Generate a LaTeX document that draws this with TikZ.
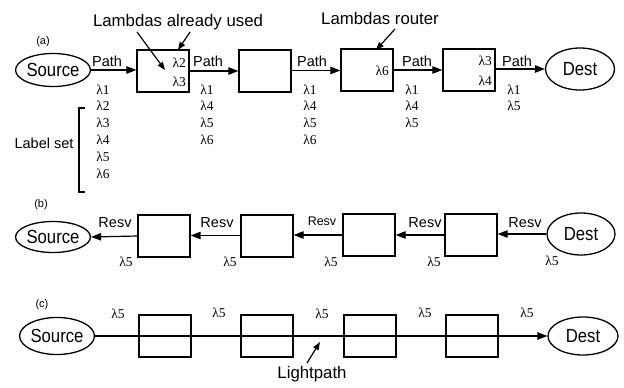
\documentclass[tikz,border=0pt]{standalone}
\usepackage{fontspec}
\setmainfont{Liberation Sans}
\newfontfamily\lamfont{Liberation Serif}
\newfontfamily\narrowfont[FakeStretch=0.88]{Liberation Sans}
\usetikzlibrary{shapes.geometric,arrows.meta}
\tikzset{
  box/.style={draw,line width=1.4pt,minimum width=52pt,minimum height=42pt,inner sep=0pt},
  ell/.style={draw,ellipse,line width=1.3pt,inner sep=0pt,font=\narrowfont\fontsize{19}{19}\selectfont},
  conn/.style={line width=1.2pt,-{Triangle[length=10pt,width=7.5pt]}},
  note/.style={line width=1.2pt,-{Triangle[length=8pt,width=6pt]}},
  lbl/.style={font=\fontsize{14.5}{14.5}\selectfont,anchor=base,inner sep=0pt},
  big/.style={font=\fontsize{16.8}{16.8}\selectfont,anchor=base,inner sep=0pt},
  lam/.style={font=\lamfont\fontsize{13.5}{13.5}\selectfont,anchor=base,inner sep=0pt},
  tag/.style={font=\fontsize{11}{11}\selectfont,inner sep=0pt}
}
\begin{document}
\begin{tikzpicture}[x=1pt,y=-1pt]
\useasboundingbox (0,0) rectangle (624,388);
% ---------- (a) ----------
\node[tag] (ta) at (43,42) {(a)};
\node[ell,minimum width=69pt,minimum height=33pt] (sa) at (53,70) {Source};
\node[box] (a1) at (163,71) {};
\node[box] (a2) at (265,71) {};
\node[box] (a3) at (367,70) {};
\node[box] (a4) at (469,70) {};
\node[ell,minimum width=69pt,minimum height=42pt] (da) at (580,69) {Dest};
\draw[conn] (sa) -- (sa -| a1.west);
\draw[conn] (a1.east |- 0,71) -- (a2.west |- 0,71);
\draw[conn] (a2.east |- 0,70.5) -- (a3.west |- 0,70.5);
\draw[conn] (a3.east |- 0,70) -- (a4.west |- 0,70);
\draw[conn] (a4.east |- 0,69) -- (da.west);
\foreach \x/\n in {107/p1,208/p2,312/p3,417/p4,517/p5}{\node[lbl] (\n) at (\x,66) {Path};}
% label columns
\node[lam] (c1a) at (103,94) {λ1};
\node[lam] (c1b) at (103,110.8) {λ2};
\node[lam] (c1c) at (103,127.6) {λ3};
\node[lam] (c1d) at (103,144.4) {λ4};
\node[lam] (c1e) at (103,161.2) {λ5};
\node[lam] (c1f) at (103,178) {λ6};
\node[lam] (c2a) at (207,94) {λ1};
\node[lam] (c2b) at (207,110.8) {λ4};
\node[lam] (c2c) at (207,127.6) {λ5};
\node[lam] (c2d) at (207,144.4) {λ6};
\node[lam] (c3a) at (310,94) {λ1};
\node[lam] (c3b) at (310,110.8) {λ4};
\node[lam] (c3c) at (310,127.6) {λ5};
\node[lam] (c3d) at (310,144.4) {λ6};
\node[lam] (c4a) at (412,94) {λ1};
\node[lam] (c4b) at (412,110.8) {λ4};
\node[lam] (c4c) at (412,127.6) {λ5};
\node[lam] (c5a) at (514,94) {λ1};
\node[lam] (c5b) at (514,110.8) {λ5};
% inside boxes
\node[lam,anchor=base east] (i1a) at (186,67) {λ2};
\node[lam,anchor=base east] (i1b) at (186,86) {λ3};
\node[lam,anchor=base east] (i3a) at (389,75.5) {λ6};
\node[lam,anchor=base east] (i4a) at (492,65) {λ3};
\node[lam,anchor=base east] (i4b) at (492,85) {λ4};
% annotations
\node[big] (lau) at (178,26) {Lambdas already used};
\coordinate (u1s) at (137,32); \coordinate (u1e) at (165,70);
\coordinate (u2s) at (190,32); \coordinate (u2e) at (178,50);
\draw[note] (u1s) -- (u1e);
\draw[note] (u2s) -- (u2e);
\node[big] (lr) at (380,24) {Lambdas router};
\coordinate (r1s) at (395,29); \coordinate (r1e) at (376,50);
\draw[note] (r1s) -- (r1e);
% label set
\node[lbl,anchor=center] (ls) at (44,143) {Label set};
\coordinate (bt) at (85,108); \coordinate (bb) at (85,192);
\draw[line width=1.1pt] (bt) -- ++(-6,0) coordinate (btl) -- (btl |- bb) -- (bb);
% ---------- (b) ----------
\node[tag] (tb) at (41,205) {(b)};
\node[ell,minimum width=68pt,minimum height=31pt] (sb) at (53,237) {Source};
\node[box] (b1) at (164,236) {};
\node[box] (b2) at (267,236) {};
\node[box] (b3) at (369,235) {};
\node[box] (b4) at (471,235) {};
\node[ell,minimum width=68pt,minimum height=42pt] (db) at (581,234) {Dest};
\draw[conn] (db.west) -- (db.west -| b4.east);
\draw[conn] (b4.west |- 0,235) -- (b3.east |- 0,235);
\draw[conn] (b3.west |- 0,235) -- (b2.east |- 0,235);
\draw[conn] (b2.west |- 0,235.5) -- (b1.east |- 0,235.5);
\draw[conn] (b1.west |- 0,236) -- (sb.east);
\node[lbl] (r1) at (115,227) {Resv};
\node[lbl] (r2) at (217,227) {Resv};
\node[lbl,font=\fontsize{12.5}{12.5}\selectfont] (r3) at (322,225) {Resv};
\node[lbl] (r4) at (425,227) {Resv};
\node[lbl] (r5) at (525,227) {Resv};
\node[lam] (l1) at (126,266) {λ5};
\node[lam] (l2) at (230,266) {λ5};
\node[lam] (l3) at (331,266) {λ5};
\node[lam] (l4) at (434,266) {λ5};
\node[lam] (l5) at (552,265) {λ5};
% ---------- (c) ----------
\node[tag] (tc) at (42,305) {(c)};
\node[ell,minimum width=62pt,minimum height=37pt] (sc) at (57,336) {Source};
\node[box] (k1) at (165,336) {};
\node[box] (k2) at (267,336) {};
\node[box] (k3) at (370,336) {};
\node[box] (k4) at (472,336) {};
\node[ell,minimum width=70pt,minimum height=38pt] (dc) at (583,336) {Dest};
\draw[conn] (sc.east) -- (dc.west);
\node[lam] (m1) at (118,318) {λ5};
\node[lam] (m2) at (219,317) {λ5};
\node[lam] (m3) at (322,318) {λ5};
\node[lam] (m4) at (425,317) {λ5};
\node[lam] (m5) at (527,317) {λ5};
\node[big,anchor=center] (lp) at (312,374) {Lightpath};
\coordinate (lps) at (307,363); \coordinate (lpe) at (320,342);
\draw[note] (lps) -- (lpe);
\end{tikzpicture}
\end{document}
